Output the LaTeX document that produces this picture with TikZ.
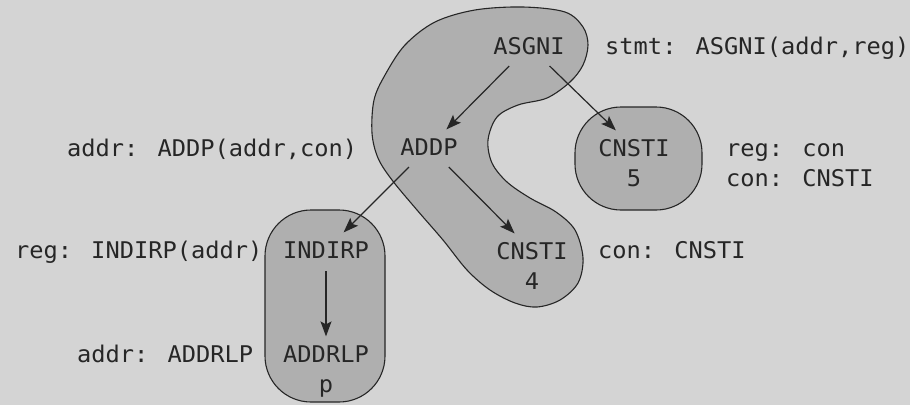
\documentclass[tikz,border=0pt]{standalone}
\usepackage{fontspec}
\usepackage{tikz}
\usetikzlibrary{arrows.meta}
\newfontfamily\codefont{DejaVu Sans Mono}[FakeStretch=1.03]
\newcommand{\codesize}{\codefont\fontsize{23}{30}\selectfont}
\definecolor{paper}{HTML}{D4D4D4}
\definecolor{blob}{HTML}{AFAFAF}
\definecolor{ink}{HTML}{262626}

\tikzset{
  op/.style={font=\codesize, text=ink, text height=16.8pt, text depth=0pt,
    inner xsep=2pt, inner ysep=9pt},
  val/.style={font=\codesize, text=ink, text height=16.8pt, text depth=0pt,
    inner sep=0pt},
  rule/.style={font=\codesize, text=ink, inner sep=0pt, anchor=base west},
  tile/.style={fill=blob, draw=ink, line width=1.1pt},
  kid/.style={draw=ink, line width=1.2pt,
    -{Stealth[length=15pt,width=11pt,inset=3pt]}, shorten <=3.5pt}
}

\begin{document}
\begin{tikzpicture}[x=1pt, y=-1pt, label distance=4.2pt]
    \useasboundingbox (0,0) rectangle (910,405);
    \fill[paper] (0,0) rectangle (910,405);

    % tiles covering the tree
    \draw[tile] plot[smooth cycle, tension=0.55] coordinates {
      (372,133) (374,100) (385,75) (405,45) (435,22) (475,10) (523,7)
      (565,12) (583,27) (588,45) (583,65) (570,82) (547,98) (518,105)
      (497,117) (488,140) (492,163) (507,182) (530,198) (556,212)
      (575,230) (583,258) (578,283) (560,300) (537,307) (515,303)
      (490,290) (467,270) (443,240) (417,210) (392,180) (378,158)};
    \draw[tile, rounded corners=46pt] (575,107) rectangle (702,210);
    \draw[tile, rounded corners=46pt] (265,210) rectangle (385,402);

    % tree nodes
    \node[op] (asgni) at (529,46) {ASGNI};
    \node[op] (addp) at (429,147) {ADDP};
    \node[op, label={[val]below:5}] (cnstfive) at (634,148) {CNSTI};
    \node[op] (indirp) at (326,250) {INDIRP};
    \node[op, label={[val]below:4}] (cnstfour) at (532,251) {CNSTI};
    \node[op, label={[val]below:p}] (addrlp) at (326,354) {ADDRLP};

    \draw[kid] (asgni) -- (addp);
    \draw[kid] (asgni) -- (cnstfive);
    \draw[kid] (addp) -- (indirp);
    \draw[kid] (addp) -- (cnstfour);
    \draw[kid] (indirp) -- (addrlp);

    % matching rules
    \node[rule] (stmtrule) at (605,54.4) {stmt: ASGNI(addr,reg)};
    \node[rule] (addprule) at (67,156) {addr: ADDP(addr,con)};
    \node[rule] (regcon) at (726,156) {reg: con};
    \node[rule] (confive) at (726,186) {con: CNSTI};
    \node[rule] (indrule) at (15,258.5) {reg: INDIRP(addr)};
    \node[rule] (confour) at (598,258.5) {con: CNSTI};
    \node[rule] (addrrule) at (77,362) {addr: ADDRLP};
\end{tikzpicture}
\end{document}
